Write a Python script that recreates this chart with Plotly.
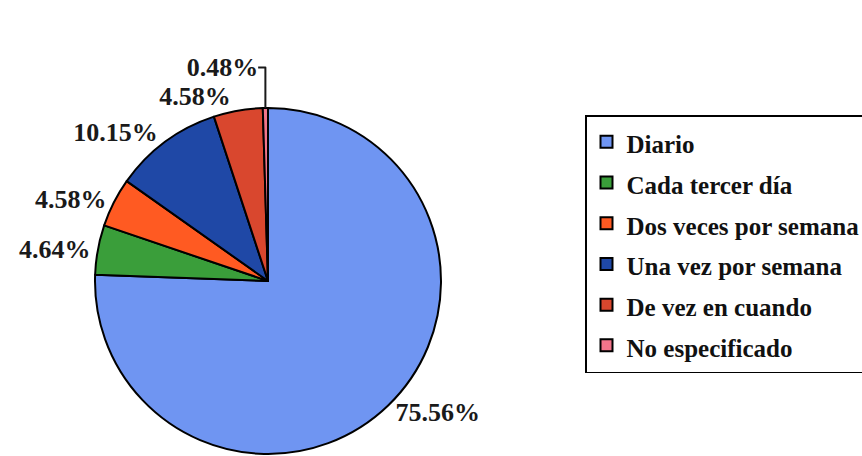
import plotly.graph_objects as go

categories = ["Diario", "Cada tercer día", "Dos veces por semana",
              "Una vez por semana", "De vez en cuando", "No especificado"]
values = [75.56, 4.64, 4.58, 10.15, 4.58, 0.48]
colors = ["#6f95f2", "#3a9e3a", "#ff5a22", "#1f48a6", "#d9472e", "#f2748a"]

W, H = 862, 456
SERIF = "Times New Roman"
legend_labels = ['<b><span style="font-size:25px">%s</span></b>' % c for c in categories]

fig = go.Figure(go.Pie(
    labels=legend_labels,
    values=values,
    sort=False,
    direction="clockwise",
    rotation=0,
    marker=dict(colors=colors, line=dict(color="black", width=2)),
    textposition="outside",
    texttemplate="<b>%{value:.2f}%</b>",
    textfont=dict(family=SERIF, size=26, color="#1a1a1a"),
    domain=dict(x=[0, 536 / W], y=[2 / H, 348 / H]),
    hoverinfo="skip",
))

fig.update_layout(
    width=W, height=H,
    margin=dict(l=0, r=0, t=0, b=0, autoexpand=False),
    paper_bgcolor="white",
    showlegend=True,
    legend=dict(
        x=585 / W, y=1 - 115 / H, xanchor="left", yanchor="top",
        font=dict(family=SERIF, size=29, color="#111111"),
        bordercolor="black", borderwidth=1.5, bgcolor="white",
    ),
)

fig.write_html("out.html")
